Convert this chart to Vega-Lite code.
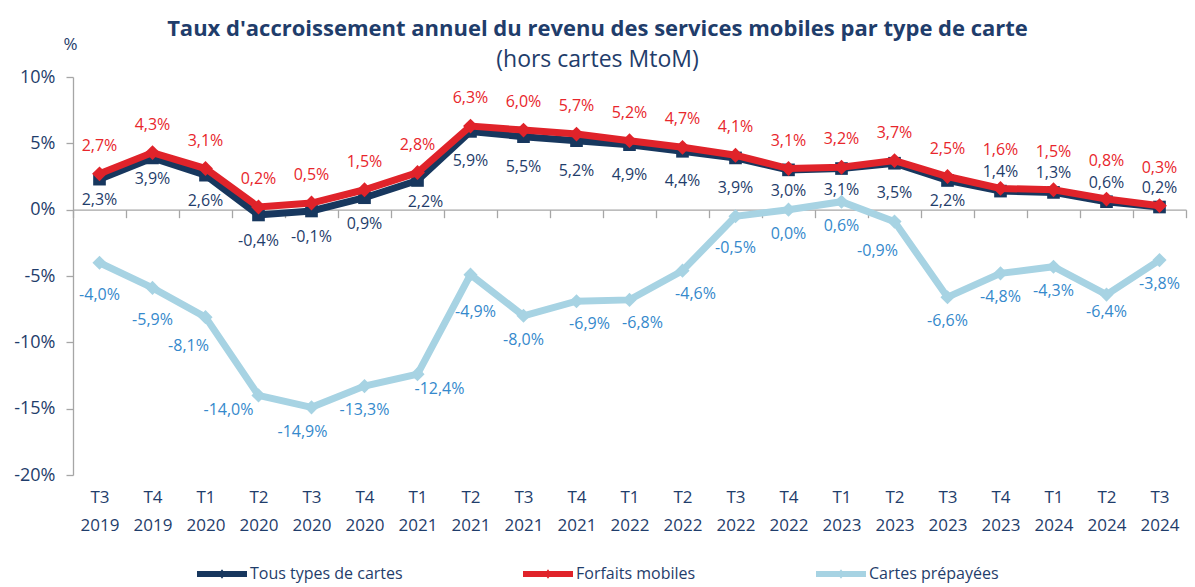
{
  "$schema": "https://vega.github.io/schema/vega-lite/v6.json",
  "width": 1113,
  "height": 398,
  "autosize": {"type": "none"},
  "padding": {"left": 73, "top": 77, "right": 9, "bottom": 112},
  "background": "white",
  "config": {
    "locale": {"number": {"decimal": ",", "thousands": "\u00a0", "grouping": [3], "currency": ["", "\u00a0€"], "minus": "-", "percent": "%"}},
    "view": {"stroke": null},
    "font": "Open Sans",
    "text": {"fontSize": 16}
  },
  "title": {
    "text": "Taux d'accroissement annuel du revenu des services mobiles par type de carte",
    "subtitle": "(hors cartes MtoM)",
    "anchor": "middle",
    "frame": "group",
    "dx": -32,
    "offset": -38,
    "font": "Open Sans",
    "fontSize": 22,
    "fontWeight": "bold",
    "color": "#1F3D6B",
    "subtitleFont": "Open Sans",
    "subtitleFontSize": 23,
    "subtitleColor": "#1F3D6B",
    "subtitlePadding": 8
  },
  "data": {
    "values": [
      {"q": "T3 2019", "Tous types de cartes": 0.023, "Forfaits mobiles": 0.027, "Cartes prépayées": -0.040},
      {"q": "T4 2019", "Tous types de cartes": 0.039, "Forfaits mobiles": 0.043, "Cartes prépayées": -0.059},
      {"q": "T1 2020", "Tous types de cartes": 0.026, "Forfaits mobiles": 0.031, "Cartes prépayées": -0.081},
      {"q": "T2 2020", "Tous types de cartes": -0.004, "Forfaits mobiles": 0.002, "Cartes prépayées": -0.140},
      {"q": "T3 2020", "Tous types de cartes": -0.001, "Forfaits mobiles": 0.005, "Cartes prépayées": -0.149},
      {"q": "T4 2020", "Tous types de cartes": 0.009, "Forfaits mobiles": 0.015, "Cartes prépayées": -0.133},
      {"q": "T1 2021", "Tous types de cartes": 0.022, "Forfaits mobiles": 0.028, "Cartes prépayées": -0.124},
      {"q": "T2 2021", "Tous types de cartes": 0.059, "Forfaits mobiles": 0.063, "Cartes prépayées": -0.049},
      {"q": "T3 2021", "Tous types de cartes": 0.055, "Forfaits mobiles": 0.060, "Cartes prépayées": -0.080},
      {"q": "T4 2021", "Tous types de cartes": 0.052, "Forfaits mobiles": 0.057, "Cartes prépayées": -0.069},
      {"q": "T1 2022", "Tous types de cartes": 0.049, "Forfaits mobiles": 0.052, "Cartes prépayées": -0.068},
      {"q": "T2 2022", "Tous types de cartes": 0.044, "Forfaits mobiles": 0.047, "Cartes prépayées": -0.046},
      {"q": "T3 2022", "Tous types de cartes": 0.039, "Forfaits mobiles": 0.041, "Cartes prépayées": -0.005},
      {"q": "T4 2022", "Tous types de cartes": 0.030, "Forfaits mobiles": 0.031, "Cartes prépayées": 0.000},
      {"q": "T1 2023", "Tous types de cartes": 0.031, "Forfaits mobiles": 0.032, "Cartes prépayées": 0.006},
      {"q": "T2 2023", "Tous types de cartes": 0.035, "Forfaits mobiles": 0.037, "Cartes prépayées": -0.009},
      {"q": "T3 2023", "Tous types de cartes": 0.022, "Forfaits mobiles": 0.025, "Cartes prépayées": -0.066},
      {"q": "T4 2023", "Tous types de cartes": 0.014, "Forfaits mobiles": 0.016, "Cartes prépayées": -0.048},
      {"q": "T1 2024", "Tous types de cartes": 0.013, "Forfaits mobiles": 0.015, "Cartes prépayées": -0.043},
      {"q": "T2 2024", "Tous types de cartes": 0.006, "Forfaits mobiles": 0.008, "Cartes prépayées": -0.064},
      {"q": "T3 2024", "Tous types de cartes": 0.002, "Forfaits mobiles": 0.003, "Cartes prépayées": -0.038}
    ]
  },
  "transform": [
    {"fold": ["Tous types de cartes", "Forfaits mobiles", "Cartes prépayées"], "as": ["serie", "v"]}
  ],
  "encoding": {
    "x": {
      "field": "q", "type": "ordinal", "sort": null,
      "scale": {"paddingInner": 0, "paddingOuter": 0},
      "axis": {
        "title": null, "labelAngle": 0,
        "labelExpr": "split(datum.label, ' ')",
        "offset": -265.3,
        "domainColor": "#A6A6A6", "domainWidth": 1.3,
        "tickColor": "#A6A6A6", "tickWidth": 1.3, "tickSize": 8, "tickBand": "extent",
        "labelPadding": 272, "labelLineHeight": 28,
        "labelFont": "Open Sans", "labelFontSize": 17, "labelColor": "#1F3D6B",
        "labelBaseline": "top"
      }
    },
    "y": {
      "field": "v", "type": "quantitative",
      "scale": {"domain": [-0.2, 0.1], "nice": false, "zero": false},
      "axis": {
        "values": [-0.2, -0.15, -0.1, -0.05, 0, 0.05, 0.1],
        "format": ".0%", "grid": false,
        "title": "%", "titleAngle": 0, "titleX": -3, "titleY": -24,
        "titleFont": "Open Sans", "titleFontSize": 17, "titleFontWeight": "normal", "titleColor": "#1F3D6B",
        "domainColor": "#A6A6A6", "domainWidth": 1.3,
        "tickColor": "#A6A6A6", "tickWidth": 1.3, "tickSize": 7,
        "labelPadding": 11, "labelFont": "Open Sans", "labelFontSize": 18, "labelColor": "#1F3D6B"
      }
    }
  },
  "layer": [
    {
      "transform": [{"filter": "datum.serie == 'Cartes prépayées'"}],
      "mark": {"type": "line", "color": "#A7D3E3", "strokeWidth": 7}
    },
    {
      "transform": [{"filter": "datum.serie == 'Cartes prépayées'"}],
      "mark": {"type": "point", "shape": "diamond", "filled": true, "size": 200, "opacity": 1},
      "encoding": {"color": {"field": "serie", "type": "nominal"}}
    },
    {
      "transform": [{"filter": "datum.serie == 'Tous types de cartes'"}],
      "mark": {"type": "line", "color": "#17375E", "strokeWidth": 7}
    },
    {
      "transform": [{"filter": "datum.serie == 'Tous types de cartes'"}],
      "mark": {"type": "point", "shape": "square", "filled": true, "size": 160, "opacity": 1},
      "encoding": {"color": {"field": "serie", "type": "nominal"}}
    },
    {
      "transform": [{"filter": "datum.serie == 'Forfaits mobiles'"}],
      "mark": {"type": "line", "color": "#E0232A", "strokeWidth": 7}
    },
    {
      "transform": [{"filter": "datum.serie == 'Forfaits mobiles'"}],
      "mark": {"type": "point", "shape": "diamond", "filled": true, "size": 220, "opacity": 1},
      "encoding": {
        "color": {
          "field": "serie", "type": "nominal",
          "scale": {"domain": ["Tous types de cartes", "Forfaits mobiles", "Cartes prépayées"], "range": ["#17375E", "#E0232A", "#A7D3E3"]},
          "legend": {
            "title": null, "orient": "none", "direction": "horizontal",
            "legendX": 124, "legendY": 472,
            "symbolType": "M-1,-0.12H1V0.12H-1Z M-0.14,0L0,-0.19L0.14,0L0,0.19Z",
            "symbolSize": 2500, "symbolStrokeWidth": 0, "symbolOpacity": 1,
            "columnPadding": 120, "labelOffset": 3,
            "labelFont": "Open Sans", "labelFontSize": 16, "labelColor": "#1F3D6B"
          }
        }
      }
    },
    {
      "transform": [{"filter": "datum.serie == 'Forfaits mobiles'"}, {"filter": {"field": "q", "oneOf": ["T4 2023", "T1 2024", "T2 2024", "T3 2024"]}}],
      "mark": {"type": "text", "dy": -38, "color": "#E8262C"},
      "encoding": {"text": {"field": "v", "format": ".1%"}}
    },
    {
      "transform": [{"filter": "datum.serie == 'Forfaits mobiles'"}, {"filter": {"not": {"field": "q", "oneOf": ["T4 2023", "T1 2024", "T2 2024", "T3 2024"]}}}],
      "mark": {"type": "text", "dy": -28, "color": "#E8262C"},
      "encoding": {"text": {"field": "v", "format": ".1%"}}
    },
    {
      "transform": [{"filter": "datum.serie == 'Tous types de cartes'"}, {"filter": {"field": "q", "oneOf": ["T4 2023", "T1 2024", "T2 2024", "T3 2024"]}}],
      "mark": {"type": "text", "dy": -19, "color": "#1F3D6B"},
      "encoding": {"text": {"field": "v", "format": ".1%"}}
    },
    {
      "transform": [{"filter": "datum.serie == 'Tous types de cartes'"}, {"filter": {"field": "q", "oneOf": ["T1 2021"]}}],
      "mark": {"type": "text", "dy": 22, "dx": 8, "color": "#1F3D6B"},
      "encoding": {"text": {"field": "v", "format": ".1%"}}
    },
    {
      "transform": [{"filter": "datum.serie == 'Tous types de cartes'"}, {"filter": {"field": "q", "oneOf": ["T3 2019", "T4 2019", "T4 2022", "T1 2023", "T3 2023"]}}],
      "mark": {"type": "text", "dy": 21, "color": "#1F3D6B"},
      "encoding": {"text": {"field": "v", "format": ".1%"}}
    },
    {
      "transform": [{"filter": "datum.serie == 'Tous types de cartes'"}, {"filter": {"field": "q", "oneOf": ["T1 2020", "T2 2020", "T3 2020", "T4 2020"]}}],
      "mark": {"type": "text", "dy": 26, "color": "#1F3D6B"},
      "encoding": {"text": {"field": "v", "format": ".1%"}}
    },
    {
      "transform": [{"filter": "datum.serie == 'Tous types de cartes'"}, {"filter": {"field": "q", "oneOf": ["T2 2021", "T3 2021", "T4 2021", "T1 2022", "T2 2022", "T3 2022", "T2 2023"]}}],
      "mark": {"type": "text", "dy": 30, "color": "#1F3D6B"},
      "encoding": {"text": {"field": "v", "format": ".1%"}}
    },
    {
      "transform": [{"filter": "datum.serie == 'Cartes prépayées'"}, {"filter": {"field": "q", "oneOf": ["T4 2020", "T3 2021", "T4 2022", "T1 2023", "T3 2023", "T4 2023", "T1 2024", "T3 2024"]}}],
      "mark": {"type": "text", "dy": 24, "color": "#3589CC"},
      "encoding": {"text": {"field": "v", "format": ".1%"}}
    },
    {
      "transform": [{"filter": "datum.serie == 'Cartes prépayées'"}, {"filter": {"field": "q", "oneOf": ["T3 2019", "T4 2019", "T3 2022"]}}],
      "mark": {"type": "text", "dy": 32, "color": "#3589CC"},
      "encoding": {"text": {"field": "v", "format": ".1%"}}
    },
    {
      "transform": [{"filter": "datum.serie == 'Cartes prépayées'"}, {"filter": {"field": "q", "oneOf": ["T2 2021"]}}],
      "mark": {"type": "text", "dy": 37, "dx": 5, "color": "#3589CC"},
      "encoding": {"text": {"field": "v", "format": ".1%"}}
    },
    {
      "transform": [{"filter": "datum.serie == 'Cartes prépayées'"}, {"filter": {"field": "q", "oneOf": ["T1 2020", "T2 2023"]}}],
      "mark": {"type": "text", "dy": 29, "dx": -17, "color": "#3589CC"},
      "encoding": {"text": {"field": "v", "format": ".1%"}}
    },
    {
      "transform": [{"filter": "datum.serie == 'Cartes prépayées'"}, {"filter": {"field": "q", "oneOf": ["T2 2020"]}}],
      "mark": {"type": "text", "dy": 15, "dx": -30, "color": "#3589CC"},
      "encoding": {"text": {"field": "v", "format": ".1%"}}
    },
    {
      "transform": [{"filter": "datum.serie == 'Cartes prépayées'"}, {"filter": {"field": "q", "oneOf": ["T3 2020"]}}],
      "mark": {"type": "text", "dy": 25, "dx": -9, "color": "#3589CC"},
      "encoding": {"text": {"field": "v", "format": ".1%"}}
    },
    {
      "transform": [{"filter": "datum.serie == 'Cartes prépayées'"}, {"filter": {"field": "q", "oneOf": ["T1 2021"]}}],
      "mark": {"type": "text", "dy": 15, "dx": 22, "color": "#3589CC"},
      "encoding": {"text": {"field": "v", "format": ".1%"}}
    },
    {
      "transform": [{"filter": "datum.serie == 'Cartes prépayées'"}, {"filter": {"field": "q", "oneOf": ["T4 2021", "T1 2022", "T2 2022"]}}],
      "mark": {"type": "text", "dy": 23, "dx": 13, "color": "#3589CC"},
      "encoding": {"text": {"field": "v", "format": ".1%"}}
    },
    {
      "transform": [{"filter": "datum.serie == 'Cartes prépayées'"}, {"filter": {"field": "q", "oneOf": ["T2 2024"]}}],
      "mark": {"type": "text", "dy": 17, "color": "#3589CC"},
      "encoding": {"text": {"field": "v", "format": ".1%"}}
    }
  ]
}
